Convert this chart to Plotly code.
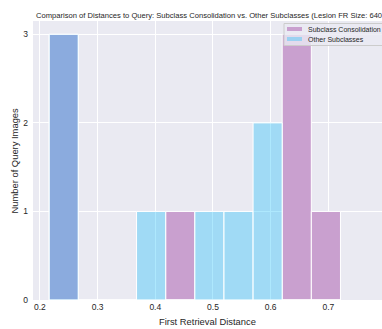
import plotly.graph_objects as go

# Histogram bins (shared by both groups) and counts per bin
bin_edges = [0.216, 0.2665, 0.317, 0.3675, 0.418, 0.4685, 0.519, 0.5695, 0.620, 0.6705, 0.721]
consolidation_counts = [3, 0, 0, 0, 1, 0, 0, 0, 3, 1]
other_counts = [3, 0, 0, 1, 0, 1, 1, 2, 0, 0]

series_names = ["Subclass Consolidation", "Other Subclasses"]
x_ticks = [0.2, 0.3, 0.4, 0.5, 0.6, 0.7]
y_ticks = [0, 1, 2, 3]

centers = [(a + b) / 2 for a, b in zip(bin_edges[:-1], bin_edges[1:])]
widths = [b - a for a, b in zip(bin_edges[:-1], bin_edges[1:])]

FONT = "Liberation Sans, Arial, sans-serif"
TEXT = "#262626"
BG = "#eaeaf2"
COLORS = ["#c9a0cf", "rgba(30,190,250,0.36)"]

W, H = 382, 329
L, R, T, B = 33, 0, 21, 29
PW, PH = W - L - R, H - T - B


def px(x):
    """Horizontal pixel position -> paper fraction of the plot area."""
    return (x - L) / PW


def py(y):
    """Vertical pixel position (from top) -> paper fraction of the plot area."""
    return (H - B - y) / PH


fig = go.Figure()
for name, counts, color in zip(series_names, [consolidation_counts, other_counts], COLORS):
    fig.add_trace(go.Bar(
        x=centers, y=counts, width=widths, name=name, showlegend=False,
        marker=dict(color=color, line=dict(color="white", width=1)),
    ))

# compact legend box drawn on top of the plot area
shapes = [dict(type="rect", xref="paper", yref="paper", layer="above",
               x0=px(284), x1=px(392), y0=py(45.5), y1=py(23.5),
               fillcolor="rgba(234,234,242,0.8)", line=dict(color="#cccccc", width=1))]
annotations = []
for i, (name, color) in enumerate(zip(series_names, COLORS)):
    yc = 29 + 10 * i
    shapes.append(dict(type="rect", xref="paper", yref="paper", layer="above",
                       x0=px(287), x1=px(302), y0=py(yc + 2), y1=py(yc - 2),
                       fillcolor=color, line=dict(width=0)))
    annotations.append(dict(text=name, x=px(306.5), y=py(yc), xref="paper", yref="paper",
                            xanchor="left", yanchor="middle", showarrow=False, borderpad=0,
                            font=dict(size=7, color=TEXT)))

annotations += [
    dict(text="First Retrieval Distance", x=0.5, xref="paper",
         y=py(321.7), yref="paper", yanchor="middle", xanchor="center",
         showarrow=False, font=dict(size=9.4, color=TEXT)),
    dict(text="Number of Query Images", x=px(14), xref="paper", xanchor="center",
         y=0.5, yref="paper", yanchor="middle", textangle=-90, showarrow=False,
         font=dict(size=9.4, color=TEXT)),
]

fig.update_layout(
    width=W, height=H,
    margin=dict(l=L, r=R, t=T, b=B),
    barmode="overlay",
    paper_bgcolor="white",
    plot_bgcolor=BG,
    font=dict(family=FONT, color=TEXT),
    title=dict(
        text="Comparison of Distances to Query: Subclass Consolidation vs. Other Subclasses (Lesion FR Size: 640",
        font=dict(size=7.6, color=TEXT),
        x=36 / W, xref="container", xanchor="left",
        y=1 - 15 / H, yref="container", yanchor="middle",
    ),
    xaxis=dict(
        range=[0.188, 0.793],
        tickvals=x_ticks, ticktext=[f"{v:.1f}" for v in x_ticks],
        showgrid=True, gridcolor="white", gridwidth=1,
        zeroline=False, showline=False, ticks="",
        tickfont=dict(size=8.5, color=TEXT),
    ),
    yaxis=dict(
        range=[0, 3.15],
        tickvals=y_ticks,
        showgrid=True, gridcolor="white", gridwidth=1,
        zeroline=False, showline=False, ticks="",
        ticklabelstandoff=4,
        tickfont=dict(size=8.5, color=TEXT),
    ),
    shapes=shapes,
    annotations=annotations,
)

fig.write_html("out.html")
